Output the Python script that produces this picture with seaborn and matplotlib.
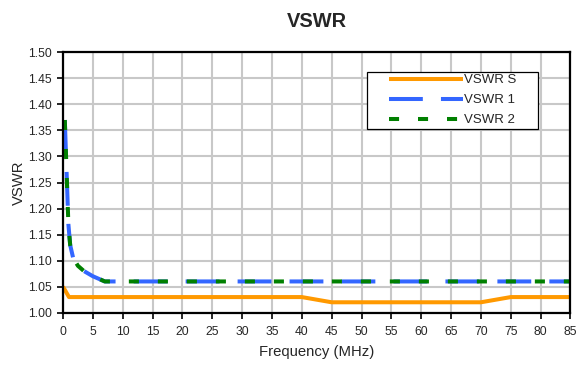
import numpy as np
import pandas as pd
import matplotlib
matplotlib.use("Agg")
import matplotlib.pyplot as plt
from matplotlib.patches import Rectangle
import seaborn as sns

# Data
freq_s = [0, 0.5, 1, 40, 45, 70, 75, 85]
vswr_s = [1.05, 1.04, 1.03, 1.03, 1.02, 1.02, 1.03, 1.03]

freq_1 = [0.3, 0.6, 0.9, 1.2, 1.7, 2.5, 3.5, 5, 7, 85]
vswr_1 = [1.37, 1.27, 1.17, 1.13, 1.105, 1.09, 1.08, 1.07, 1.06, 1.06]

freq_2 = [0.3, 0.6, 0.9, 1.2, 1.7, 2.5, 3.5, 5, 7, 85]
vswr_2 = [1.37, 1.27, 1.17, 1.13, 1.105, 1.09, 1.08, 1.07, 1.06, 1.06]

x_ticks = list(range(0, 90, 5))
y_ticks = [1.00, 1.05, 1.10, 1.15, 1.20, 1.25, 1.30, 1.35, 1.40, 1.45, 1.50]

sns.set_theme(style="white")
plt.rcParams['font.family'] = ['Liberation Sans', 'DejaVu Sans']

fig = plt.figure(figsize=(5.77, 3.65), dpi=100)
ax = fig.add_axes([0.1092, 0.1433, 0.8795, 0.7134])

ax.set_xlim(0, 85)
ax.set_ylim(1.0, 1.5)
ax.set_xticks(x_ticks)
ax.set_yticks(y_ticks)
ax.set_yticklabels([f"{v:.2f}" for v in y_ticks])
ax.grid(True, color="#C8C8C8", linewidth=1.5)
ax.set_axisbelow(True)

df_s = pd.DataFrame({"f": freq_s, "v": vswr_s})
df_1 = pd.DataFrame({"f": freq_1, "v": vswr_1})
df_2 = pd.DataFrame({"f": freq_2, "v": vswr_2})

sns.lineplot(data=df_s, x="f", y="v", ax=ax, color="#FF9900", linewidth=2.9,
             label="VSWR S", solid_capstyle="butt")
sns.lineplot(data=df_1, x="f", y="v", ax=ax, color="#3366FF", linewidth=2.9,
             label="VSWR 1", linestyle=(0, (8.4, 4.5)))
sns.lineplot(data=df_2, x="f", y="v", ax=ax, color="#008000", linewidth=2.9,
             label="VSWR 2", linestyle=(0, (2.5, 4.7)))

for s in ax.spines.values():
    s.set_color("black")
    s.set_linewidth(1.6)

ax.tick_params(axis="both", which="both", direction="out", length=4, width=1.2,
               color="black", labelsize=8.7, left=True, bottom=True)
ax.tick_params(axis="x", pad=5.5)
ax.tick_params(axis="y", pad=4.2)

ax.set_xlabel("Frequency (MHz)", fontsize=10.7, labelpad=5)
ax.set_ylabel("VSWR", fontsize=10.7, labelpad=1)
ax.set_title("VSWR", fontsize=14.4, fontweight="bold", pad=18)

# legend frame (pixel box 367..538 x 72..129)
ax.add_patch(Rectangle((0.599, 0.7055), 0.337, 0.2185, transform=ax.transAxes,
                       facecolor="white", edgecolor="black", linewidth=0.9,
                       zorder=4, clip_on=False))
leg = ax.legend(loc="upper left", bbox_to_anchor=(0.642, 0.916), fontsize=9.5,
                frameon=False, handlelength=5.6, handletextpad=0.12,
                borderpad=0, labelspacing=0.58, borderaxespad=0)
leg.set_zorder(5)

fig.savefig("out.png", dpi=100)
